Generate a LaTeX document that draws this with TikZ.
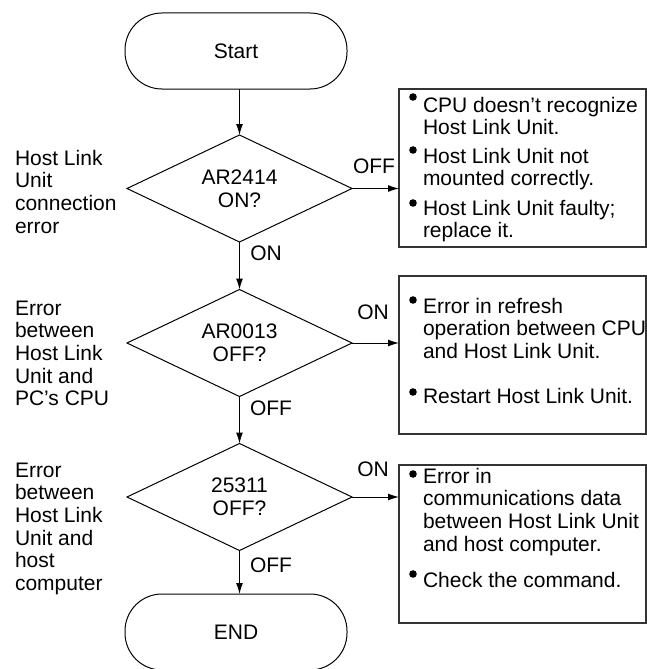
\documentclass[tikz,border=0pt]{standalone}
\usepackage{fontspec}
\setmainfont{Liberation Sans}
\usetikzlibrary{arrows.meta,shapes.geometric}
\begin{document}
\begin{tikzpicture}[x=1pt,y=-1pt,
  every node/.style={font=\fontsize{21}{22.7}\selectfont, inner sep=0pt, outer sep=0pt},
  term/.style={draw, line width=1pt, rounded corners=37pt, minimum width=222pt, minimum height=76pt},
  dec/.style={draw, line width=1pt, diamond, aspect=2.1, minimum width=225pt, minimum height=107pt, align=center},
  infobox/.style={draw=black!80, line width=1.2pt, minimum width=247pt, minimum height=158pt, anchor=north west},
  item/.style={anchor=base west, align=left},
  side/.style={anchor=base west, align=left},
  lbl/.style={anchor=base},
  arr/.style={line width=1pt, -{Latex[length=11pt,width=7pt]}},
  dot/.style={fill=black}]
\useasboundingbox (0,0) rectangle (647,669);
\clip (0,0) rectangle (647,669);
% terminals
\node[term] (start) at (236,51) {Start};
\node[term] (end) at (236,632) {END};
% decisions
\node[dec] (d1) at (239.5,188.5) {AR2414\\ON?};
\node[dec] (d2) at (239.5,343) {AR0013\\OFF?};
\node[dec] (d3) at (239.5,497) {25311\\OFF?};
% boxes
\node[infobox] (b1) at (399,89) {};
\node[infobox] (b2) at (399,276) {};
\node[infobox] (b3) at (399,465) {};
% connectors
\draw[arr] (start.south -| d1.north) -- (d1.north);
\draw[arr] (d1.south) -- (d2.north);
\draw[arr] (d2.south) -- (d3.north);
\draw[arr] (d3.south) -- (end.north -| d3.south);
\draw[arr] (d1.east) -- (b1.west |- d1.east);
\draw[arr] (d2.east) -- (b2.west |- d2.east);
\draw[arr] (d3.east) -- (b3.west |- d3.east);
% branch labels
\node[lbl] (l1) at (374,173) {OFF};
\node[lbl] (l2) at (266,260) {ON};
\node[lbl] (l3) at (373,319) {ON};
\node[lbl] (l4) at (271,415) {OFF};
\node[lbl] (l5) at (373,476) {ON};
\node[lbl] (l6) at (271,572) {OFF};
% side texts (base anchor = last line)
\node[side] (s1) at (15,233.1) {Host Link\\Unit\\connection\\error};
\node[side] (s2) at (15,405.8) {Error\\between\\Host Link\\Unit and\\PC’s CPU};
\node[side] (s3) at (15,590.5) {Error\\between\\Host Link\\Unit and\\host\\computer};
% box 1
\fill[dot] (413,97) circle (3.8);
\node[item] (i11) at (423,134.7) {CPU doesn’t recognize\\Host Link Unit.};
\fill[dot] (413,150) circle (3.8);
\node[item] (i12) at (423,185.7) {Host Link Unit not\\mounted correctly.};
\fill[dot] (413,203) circle (3.8);
\node[item] (i13) at (423,237.7) {Host Link Unit faulty;\\replace it.};
% box 2
\fill[dot] (413,300) circle (3.8);
\node[item] (i21) at (423,358.4) {Error in refresh\\operation between CPU\\and Host Link Unit.};
\fill[dot] (413,392) circle (3.8);
\node[item] (i22) at (423,403) {Restart Host Link Unit.};
% box 3
\fill[dot] (413,474) circle (3.8);
\node[item] (i31) at (423,551.1) {Error in\\communications data\\between Host Link Unit\\and host computer.};
\fill[dot] (413,574) circle (3.8);
\node[item] (i32) at (423,587) {Check the command.};
\end{tikzpicture}
\end{document}
